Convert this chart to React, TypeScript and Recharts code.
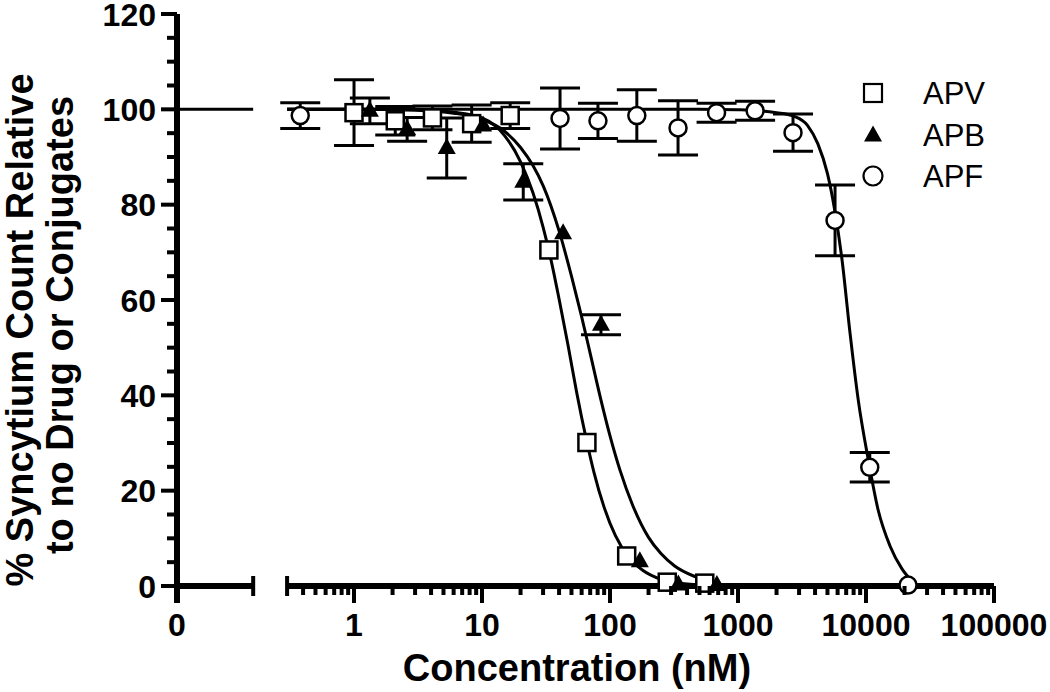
import React from 'react';
import { ComposedChart, Scatter, Line, XAxis, YAxis, ErrorBar, ReferenceLine, Legend } from 'recharts';

const FONT = '"Liberation Sans", Arial, Helvetica, sans-serif';

// x axis is log with a broken "0" segment at the far left
const xZero = 0.0414; // where the "0" label sits (left edge of plot)
const xBreakEnd = 0.163; // end cap of the "0" segment
const xLogStart = 0.3;
const xLogEnd = 100000;
const xMajorTicks = [1, 10, 100, 1000, 10000, 100000];
const xMinorTicks = [0.1, 1, 10, 100, 1000, 10000]
  .flatMap((d) => [2, 3, 4, 5, 6, 7, 8, 9].map((m) => m * d))
  .filter((v) => v > 0.31 && v < 100000);
const yTicks = [0, 5, 10, 15, 20, 25, 30, 35, 40, 45, 50, 55, 60, 65, 70, 75, 80, 85, 90, 95, 100, 105, 110, 115, 120];

// measured points: concentration (nM), mean %, error (0 = hidden behind the marker)
const apvConc = [1.0, 2.1, 4.1, 8.3, 16.6, 33.3, 66, 135, 280, 550];
const apvMean = [99.3, 97.6, 98.2, 97.0, 98.7, 70.5, 30.1, 6.3, 0.8, 0.6];
const apvErr = [6.9, 3.0, 2.5, 3.9, 2.7, 0, 0, 0, 0, 0];

const apbConc = [1.33, 2.6, 5.3, 10.2, 21, 43, 85, 171, 342, 684];
const apbMean = [99.7, 95.8, 91.9, 96.6, 84.8, 74.0, 54.8, 5.2, 0.3, 0.2];
const apbErr = [2.7, 2.5, 6.3, 0, 3.8, 0, 2.1, 0, 0, 0];

const apfConc = [0.38, 40.7, 80.5, 162, 340, 680, 1360, 2690, 5730, 10700, 21300];
const apfMean = [98.7, 98.1, 97.6, 98.7, 96.1, 99.3, 99.7, 95.1, 76.7, 24.9, 0.2];
const apfErr = [2.7, 6.4, 3.7, 5.4, 5.7, 2.0, 2.0, 3.9, 7.4, 3.1, 0];

// fitted curves
const apvCurveX = [0.3, 1, 3, 6, 10, 15, 20, 25, 30, 35, 40, 47, 55, 65, 75, 90, 110, 140, 180, 250, 350, 550];
const apvCurveY = [100, 100, 100, 99.4, 98.2, 94.5, 89, 82.5, 75.3, 67.8, 60.2, 50.5, 40.5, 31, 23.8, 16.5, 10.6, 6, 3.3, 1.4, 0.6, 0.2];
const apbCurveX = [0.3, 1, 3, 6, 10, 15, 20, 25, 30, 40, 50, 60, 70, 85, 100, 120, 150, 200, 250, 320, 450, 700];
const apbCurveY = [100, 100, 99.8, 99.2, 97.9, 95.4, 92, 88.2, 84, 74.5, 65, 56.5, 48.8, 39, 31.5, 24.2, 17, 10.2, 6.8, 4.2, 2.1, 0.8];
const apfCurveX = [0.3, 10, 100, 500, 1000, 1500, 2000, 2700, 3500, 4200, 5000, 5700, 6500, 7500, 8700, 10400, 12400, 15400, 19100, 23300];
const apfCurveY = [100, 100, 100, 100, 99.9, 99.7, 99.3, 98.6, 96.6, 92.8, 86.5, 78.8, 68.4, 53.1, 39, 26.6, 16.1, 8.4, 3.6, 0.8];
const zeroSegX = [xZero, xBreakEnd];
const zeroSegY = [100, 100];

const pts = (xs: number[], ys: number[], es?: number[]) =>
  xs.map((x, i) => ({ x, y: ys[i], err: es ? es[i] : 0 }));

const apvPoints = pts(apvConc, apvMean, apvErr);
const apbPoints = pts(apbConc, apbMean, apbErr);
const apfPoints = pts(apfConc, apfMean, apfErr);

const SquareMark = (p: any) => (
  <rect x={p.cx - 8.5} y={p.cy - 8.5} width={17} height={17} fill="#fff" stroke="#000" strokeWidth={2.5} />
);
const TriangleMark = (p: any) => (
  <polygon points={`${p.cx},${p.cy - 10} ${p.cx - 9},${p.cy + 6} ${p.cx + 9},${p.cy + 6}`} fill="#000" />
);
const CircleMark = (p: any) => (
  <circle cx={p.cx} cy={p.cy} r={8.5} fill="#fff" stroke="#000" strokeWidth={2.5} />
);

const XTick = (props: any) => {
  const { x, y, payload } = props;
  const v = payload.value;
  if (v === xZero) {
    return (
      <g>
        <line x1={x} x2={x} y1={y} y2={y + 17} stroke="#000" strokeWidth={6} />
        <text x={x} y={y + 50} textAnchor="middle" fontFamily={FONT} fontWeight="bold" fontSize={32} fill="#000">0</text>
      </g>
    );
  }
  if (v === xBreakEnd || v === xLogStart) {
    return <line x1={x} x2={x} y1={y - 10} y2={y + 10} stroke="#000" strokeWidth={4} />;
  }
  const major = xMajorTicks.includes(v);
  return (
    <g>
      <line x1={x} x2={x} y1={y} y2={y + (major ? 17 : 9)} stroke="#000" strokeWidth={4} />
      {major && (
        <text x={x} y={y + 50} textAnchor="middle" fontFamily={FONT} fontWeight="bold" fontSize={32} fill="#000">
          {v}
        </text>
      )}
    </g>
  );
};

const YTick = (props: any) => {
  const { x, y, payload } = props;
  const v = payload.value;
  const major = v % 20 === 0;
  return (
    <g>
      <line x1={x - (major ? 16 : 10)} x2={x} y1={y} y2={y} stroke="#000" strokeWidth={4} />
      {major && (
        <text x={x - 21} y={y} dy="0.36em" textAnchor="end" fontFamily={FONT} fontWeight="bold" fontSize={32} fill="#000">
          {v}
        </text>
      )}
    </g>
  );
};

const legendItems = [
  { name: 'APV', mark: 'square' },
  { name: 'APB', mark: 'triangle' },
  { name: 'APF', mark: 'circle' },
];

const LegendBox = () => (
  <svg width={180} height={130}>
    {legendItems.map((it, i) => {
      const cy = 22 + i * 41.5;
      return (
        <g key={it.name}>
          {it.mark === 'square' && <rect x={14} y={cy - 9} width={18} height={18} fill="#fff" stroke="#000" strokeWidth={2.2} />}
          {it.mark === 'triangle' && <polygon points={`23,${cy - 9} 14,${cy + 7} 32,${cy + 7}`} fill="#000" />}
          {it.mark === 'circle' && <circle cx={23} cy={cy} r={9.5} fill="#fff" stroke="#000" strokeWidth={2.2} />}
          <text x={73} y={cy + 11} fontFamily={FONT} fontSize={31} fill="#000">{it.name}</text>
        </g>
      );
    })}
  </svg>
);

export default function App() {
  return (
    <div style={{ position: 'absolute', left: 0, top: 0, width: 1050, height: 692, background: '#fff' }}>
      <ComposedChart width={1050} height={692} margin={{ top: 14, right: 56, bottom: 0, left: 0 }}>
        <XAxis
          type="number"
          dataKey="x"
          scale="log"
          domain={[xZero, xLogEnd]}
          allowDataOverflow
          ticks={[xZero, xBreakEnd, xLogStart, ...xMinorTicks, ...xMajorTicks]}
          interval={0}
          tick={<XTick />}
          tickLine={false}
          axisLine={false}
          tickSize={0}
          tickMargin={0}
          height={106}
          label={{
            content: () => (
              <text x={577} y={681} textAnchor="middle" fontFamily={FONT} fontWeight="bold" fontSize={38} fill="#000">
                Concentration (nM)
              </text>
            ),
          }}
        />
        <YAxis
          type="number"
          dataKey="y"
          domain={[0, 120]}
          ticks={yTicks}
          interval={0}
          tick={<YTick />}
          tickLine={false}
          tickSize={0}
          tickMargin={0}
          axisLine={{ stroke: '#000', strokeWidth: 6 }}
          width={177}
          label={{
            content: () => (
              <g fontFamily={FONT} fontWeight="bold" fontSize={38} fill="#000">
                <text transform="translate(33,330) rotate(-90)" textAnchor="middle">% Syncytium Count Relative</text>
                <text transform="translate(73,325) rotate(-90)" textAnchor="middle">to no Drug or Conjugates</text>
              </g>
            ),
          }}
        />
        <ReferenceLine segment={[{ x: xZero, y: 0 }, { x: xBreakEnd, y: 0 }]} stroke="#000" strokeWidth={6} />
        <ReferenceLine segment={[{ x: xLogStart, y: 0 }, { x: xLogEnd, y: 0 }]} stroke="#000" strokeWidth={6} />
        <Scatter name="APV" data={apvPoints} shape={<SquareMark />} isAnimationActive={false}>
          <ErrorBar dataKey="err" direction="y" width={20} strokeWidth={3} stroke="#000" />
        </Scatter>
        <Scatter name="APB" data={apbPoints} shape={<TriangleMark />} isAnimationActive={false}>
          <ErrorBar dataKey="err" direction="y" width={20} strokeWidth={3} stroke="#000" />
        </Scatter>
        <Scatter name="APF" data={apfPoints} shape={<CircleMark />} isAnimationActive={false}>
          <ErrorBar dataKey="err" direction="y" width={20} strokeWidth={3} stroke="#000" />
        </Scatter>
        <Line data={pts(zeroSegX, zeroSegY)} dataKey="y" type="linear" stroke="#000" strokeWidth={3} dot={false} isAnimationActive={false} legendType="none" />
        <Line data={pts(apvCurveX, apvCurveY)} dataKey="y" type="monotone" stroke="#000" strokeWidth={3} dot={false} isAnimationActive={false} legendType="none" />
        <Line data={pts(apbCurveX, apbCurveY)} dataKey="y" type="monotone" stroke="#000" strokeWidth={3} dot={false} isAnimationActive={false} legendType="none" />
        <Line data={pts(apfCurveX, apfCurveY)} dataKey="y" type="monotone" stroke="#000" strokeWidth={3} dot={false} isAnimationActive={false} legendType="none" />
        <Legend
          layout="horizontal"
          verticalAlign="middle"
          align="center"
          wrapperStyle={{ left: 850, top: 71, width: 180, height: 130 }}
          content={() => <LegendBox />}
        />
      </ComposedChart>
    </div>
  );
}
